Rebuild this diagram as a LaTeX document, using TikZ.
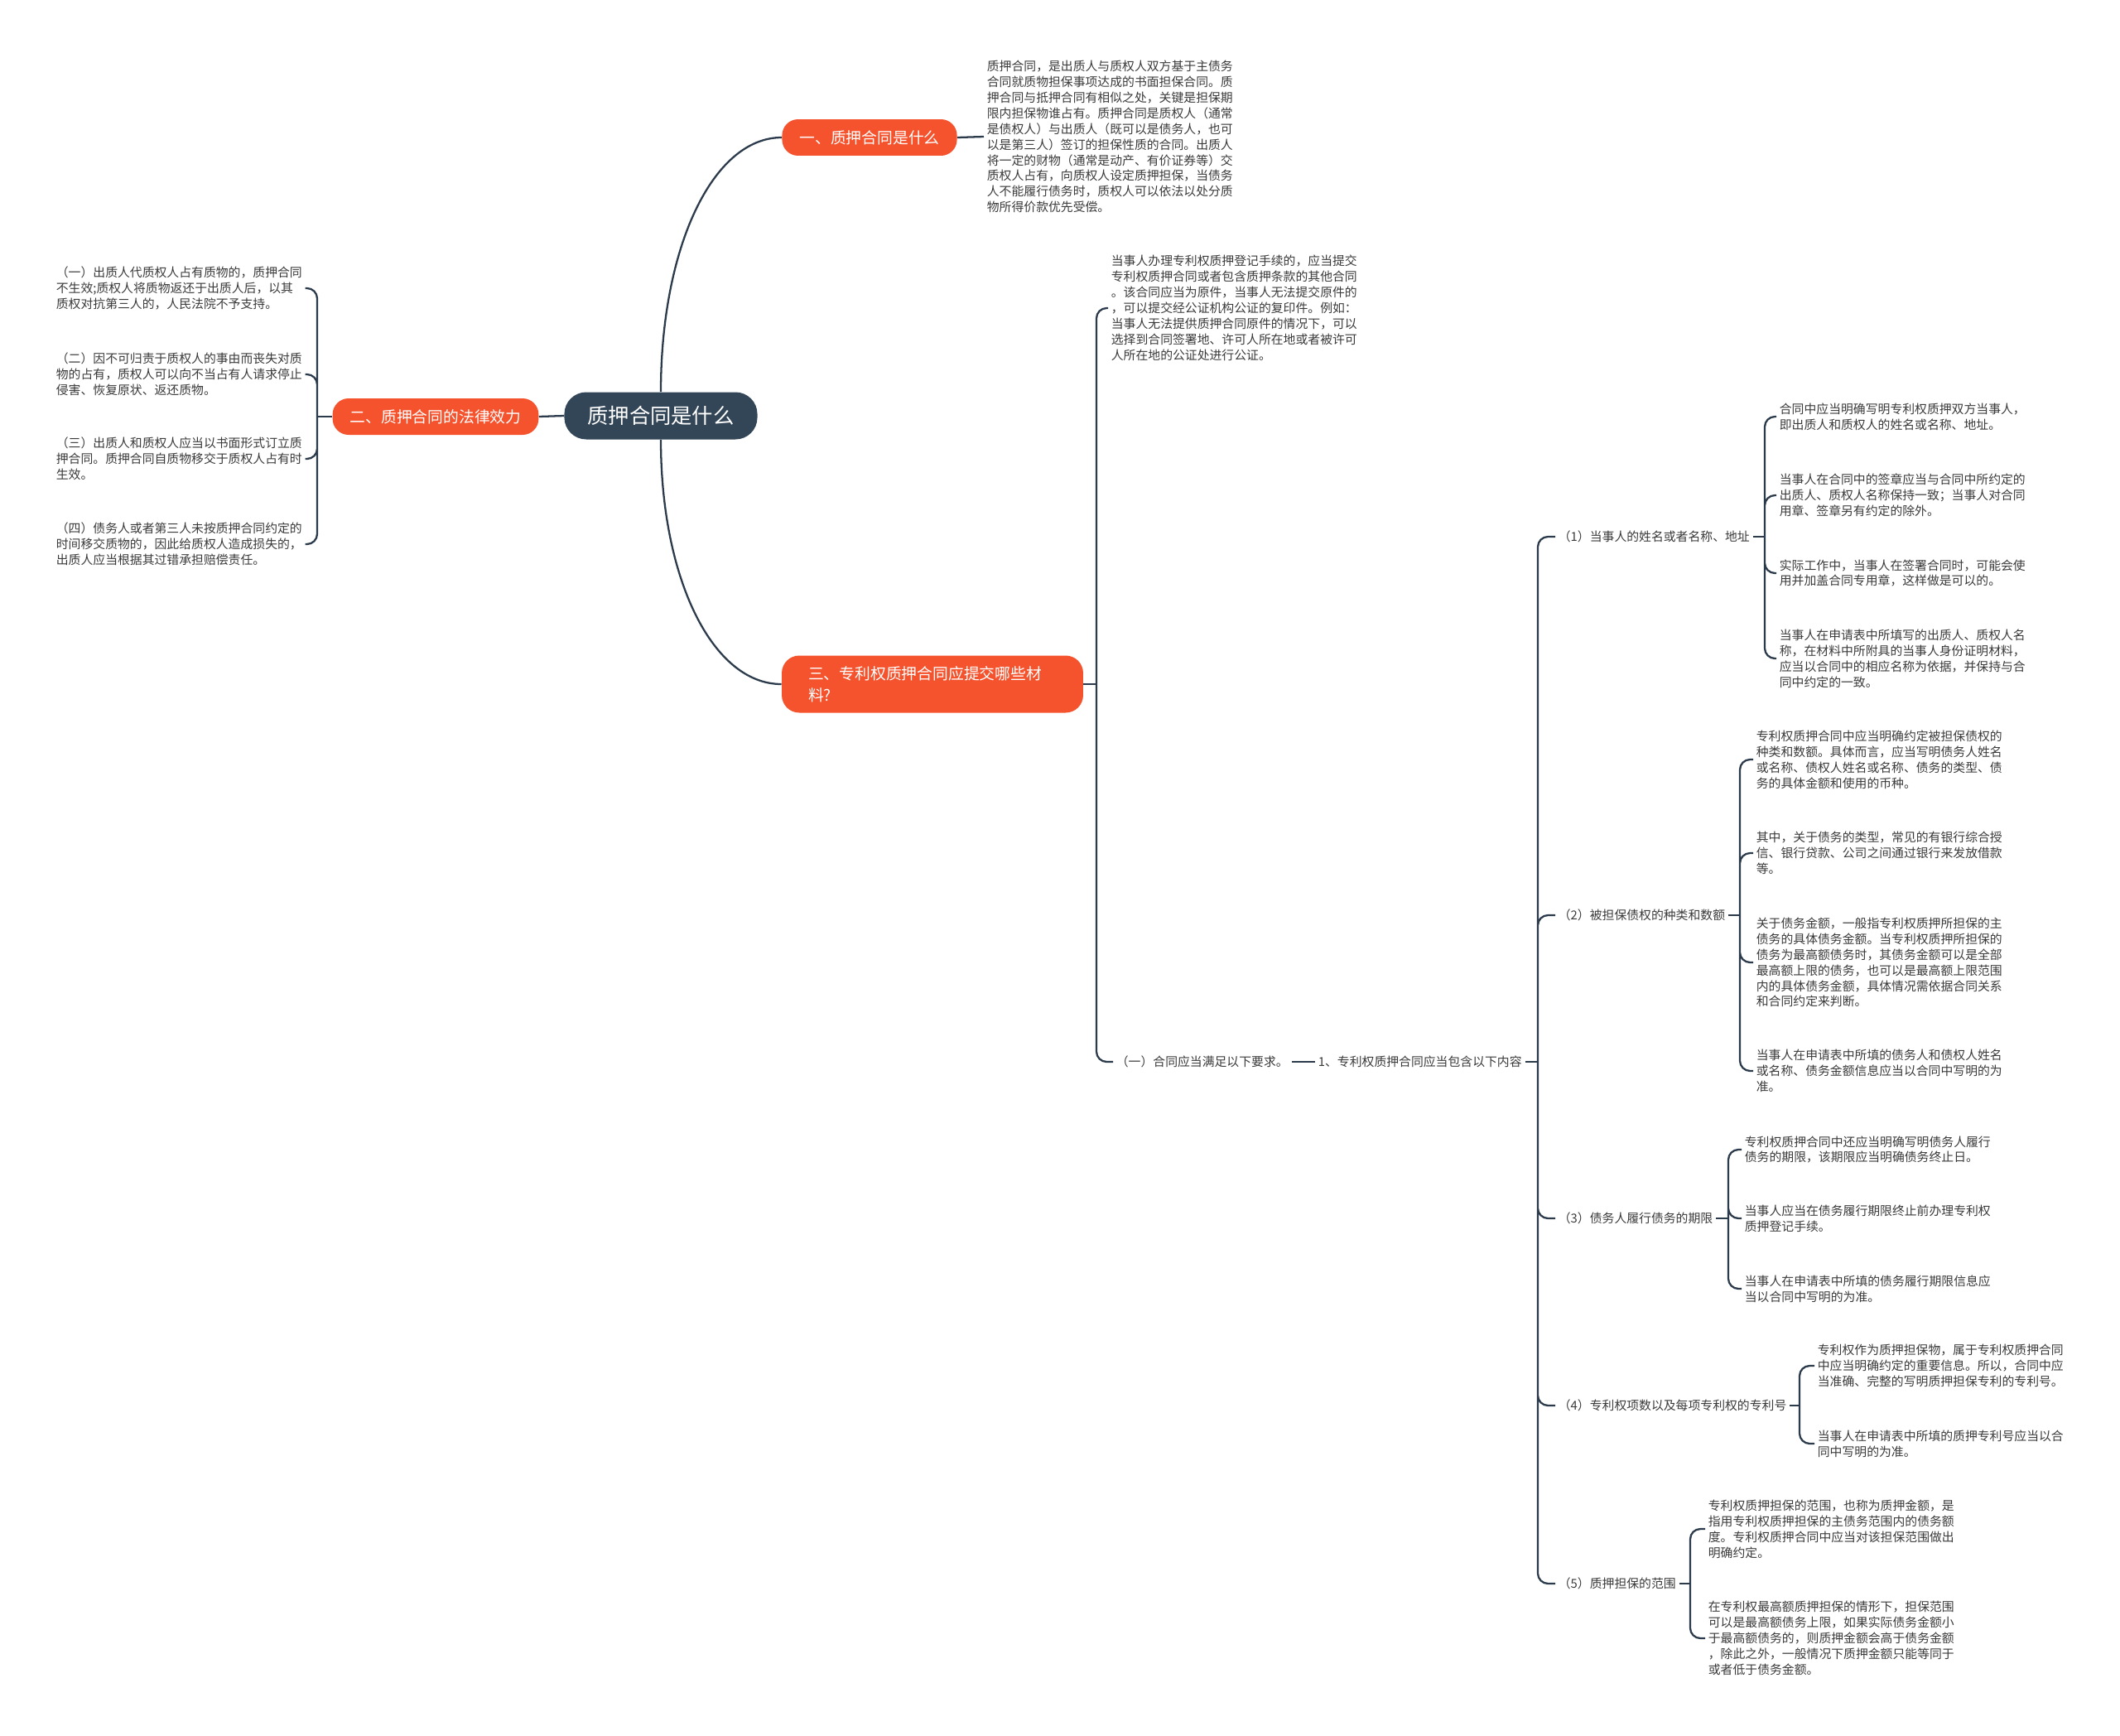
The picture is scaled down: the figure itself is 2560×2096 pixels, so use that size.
\documentclass[tikz,border=0pt]{standalone}
\usepackage{fontspec}
\setmainfont{Noto Sans CJK SC}
\usetikzlibrary{positioning}

\definecolor{topicred}{HTML}{F5532D}
\definecolor{rootblue}{HTML}{334658}
\definecolor{linedark}{HTML}{2C3B4B}
\definecolor{notegray}{HTML}{3A3A3A}

\begin{document}
\begin{tikzpicture}[
  x=0.02cm, y=-0.02cm,
  root/.style={fill=rootblue, text=white, rounded corners=15pt, font=\fontsize{14.4}{17}\selectfont, inner xsep=0.56cm, minimum height=1.14cm},
  topic/.style={fill=topicred, text=white, rounded corners=11pt, font=\fontsize{10.7}{14.8}\selectfont, inner xsep=0.42cm, minimum height=0.88cm},
  bigtopic/.style={topic, rounded corners=12pt, text width=6cm, align=left, inner xsep=0.64cm, minimum height=1.38cm},
  note/.style={anchor=west, align=left, inner sep=2pt, text=notegray, font=\fontsize{8.45}{10.77}\selectfont},
  link/.style={draw=linedark, line width=1.3pt},
  tick/.style={link, rounded corners=7pt},
]
\useasboundingbox (0,0) rectangle (2560,2096);

% ---- root and main topics ----
\node[root] (root) at (798,502) {质押合同是什么};
\node[topic] (what) at (1050,166) {一、质押合同是什么};
\node[topic] (law) at (526,503) {二、质押合同的法律效力};
\node[bigtopic] (patent) at (1126,826) {三、专利权质押合同应提交哪些材\\料?};
\draw[link] (root.north) .. controls (798,300) and (860,166) .. (what.west);
\draw[link] (root.south) .. controls (798,698) and (860,826) .. (patent.west);
\draw[link] (root.west) -- (law.east);

% ---- branch one ----
\node[note] (whattxt) at (1188,165) {质押合同，是出质人与质权人双方基于主债务\\合同就质物担保事项达成的书面担保合同。质\\押合同与抵押合同有相似之处，关键是担保期\\限内担保物谁占有。质押合同是质权人（通常\\是债权人）与出质人（既可以是债务人，也可\\以是第三人）签订的担保性质的合同。出质人\\将一定的财物（通常是动产、有价证券等）交\\质权人占有，向质权人设定质押担保，当债务\\人不能履行债务时，质权人可以依法以处分质\\物所得价款优先受偿。};
\draw[link] (what.east) -- (whattxt.west);

% ---- branch two (left side) ----
\node[note] (law1) at (64,348) {（一）出质人代质权人占有质物的，质押合同\\不生效;质权人将质物返还于出质人后，以其\\质权对抗第三人的，人民法院不予支持。};
\node[note] (law2) at (64,452) {（二）因不可归责于质权人的事由而丧失对质\\物的占有，质权人可以向不当占有人请求停止\\侵害、恢复原状、返还质物。};
\node[note] (law3) at (64,554) {（三）出质人和质权人应当以书面形式订立质\\押合同。质押合同自质物移交于质权人占有时\\生效。};
\node[note] (law4) at (64,657) {（四）债务人或者第三人未按质押合同约定的\\时间移交质物的，因此给质权人造成损失的，\\出质人应当根据其过错承担赔偿责任。};
\coordinate (jlaw) at (383,503);
\draw[link] (law.west) -- (jlaw);
\draw[tick] (jlaw) |- (law1.east) (jlaw) |- (law2.east) (jlaw) |- (law3.east) (jlaw) |- (law4.east);

% ---- branch three ----
\node[note] (pattxt) at (1338,372) {当事人办理专利权质押登记手续的，应当提交\\专利权质押合同或者包含质押条款的其他合同\\。该合同应当为原件，当事人无法提交原件的\\，可以提交经公证机构公证的复印件。例如：\\当事人无法提供质押合同原件的情况下，可以\\选择到合同签署地、许可人所在地或者被许可\\人所在地的公证处进行公证。};
\node[note] (req) at (1344,1282) {（一）合同应当满足以下要求。};
\node[note] (content) at (1588,1282) {1、专利权质押合同应当包含以下内容};
\coordinate (jpat) at (1324,826);
\draw[link] (patent.east) -- (jpat);
\draw[tick] (jpat) |- (pattxt.west) (jpat) |- (req.west);
\draw[link] (req.east) -- (content.west);

% ---- contract items ----
\node[note] (n1) at (1878,648) {（1）当事人的姓名或者名称、地址};
\node[note] (n2) at (1878,1105) {（2）被担保债权的种类和数额};
\node[note] (n3) at (1878,1471) {（3）债务人履行债务的期限};
\node[note] (n4) at (1878,1697) {（4）专利权项数以及每项专利权的专利号};
\node[note] (n5) at (1878,1912) {（5）质押担保的范围};
\coordinate (jcon) at (1857,1282);
\draw[link] (content.east) -- (jcon);
\draw[tick] (jcon) |- (n1.west) (jcon) |- (n2.west) (jcon) |- (n3.west) (jcon) |- (n4.west) (jcon) |- (n5.west);

% (1) names and addresses
\node[note] (n1a) at (2145,503) {合同中应当明确写明专利权质押双方当事人，\\即出质人和质权人的姓名或名称、地址。};
\node[note] (n1b) at (2145,598) {当事人在合同中的签章应当与合同中所约定的\\出质人、质权人名称保持一致；当事人对合同\\用章、签章另有约定的除外。};
\node[note] (n1c) at (2145,692) {实际工作中，当事人在签署合同时，可能会使\\用并加盖合同专用章，这样做是可以的。};
\node[note] (n1d) at (2145,795) {当事人在申请表中所填写的出质人、质权人名\\称，在材料中所附具的当事人身份证明材料，\\应当以合同中的相应名称为依据，并保持与合\\同中约定的一致。};
\coordinate (j1) at (2131,648);
\draw[link] (n1.east) -- (j1);
\draw[tick] (j1) |- (n1a.west) (j1) |- (n1b.west) (j1) |- (n1c.west) (j1) |- (n1d.west);

% (2) secured claim
\node[note] (n2a) at (2117,917) {专利权质押合同中应当明确约定被担保债权的\\种类和数额。具体而言，应当写明债务人姓名\\或名称、债权人姓名或名称、债务的类型、债\\务的具体金额和使用的币种。};
\node[note] (n2b) at (2117,1030) {其中，关于债务的类型，常见的有银行综合授\\信、银行贷款、公司之间通过银行来发放借款\\等。};
\node[note] (n2c) at (2117,1162) {关于债务金额，一般指专利权质押所担保的主\\债务的具体债务金额。当专利权质押所担保的\\债务为最高额债务时，其债务金额可以是全部\\最高额上限的债务，也可以是最高额上限范围\\内的具体债务金额，具体情况需依据合同关系\\和合同约定来判断。};
\node[note] (n2d) at (2117,1293) {当事人在申请表中所填的债务人和债权人姓名\\或名称、债务金额信息应当以合同中写明的为\\准。};
\coordinate (j2) at (2101,1105);
\draw[link] (n2.east) -- (j2);
\draw[tick] (j2) |- (n2a.west) (j2) |- (n2b.west) (j2) |- (n2c.west) (j2) |- (n2d.west);

% (3) term of the debt
\node[note] (n3a) at (2103,1388) {专利权质押合同中还应当明确写明债务人履行\\债务的期限，该期限应当明确债务终止日。};
\node[note] (n3b) at (2103,1471) {当事人应当在债务履行期限终止前办理专利权\\质押登记手续。};
\node[note] (n3c) at (2103,1556) {当事人在申请表中所填的债务履行期限信息应\\当以合同中写明的为准。};
\coordinate (j3) at (2087,1471);
\draw[link] (n3.east) -- (j3);
\draw[tick] (j3) |- (n3a.west) (j3) |- (n3b.west) (j3) |- (n3c.west);

% (4) patent numbers
\node[note] (n4a) at (2191,1649) {专利权作为质押担保物，属于专利权质押合同\\中应当明确约定的重要信息。所以，合同中应\\当准确、完整的写明质押担保专利的专利号。};
\node[note] (n4b) at (2191,1743) {当事人在申请表中所填的质押专利号应当以合\\同中写明的为准。};
\coordinate (j4) at (2173,1697);
\draw[link] (n4.east) -- (j4);
\draw[tick] (j4) |- (n4a.west) (j4) |- (n4b.west);

% (5) scope of the pledge
\node[note] (n5a) at (2059,1846) {专利权质押担保的范围，也称为质押金额，是\\指用专利权质押担保的主债务范围内的债务额\\度。专利权质押合同中应当对该担保范围做出\\明确约定。};
\node[note] (n5b) at (2059,1978) {在专利权最高额质押担保的情形下，担保范围\\可以是最高额债务上限，如果实际债务金额小\\于最高额债务的，则质押金额会高于债务金额\\，除此之外，一般情况下质押金额只能等同于\\或者低于债务金额。};
\coordinate (j5) at (2041,1912);
\draw[link] (n5.east) -- (j5);
\draw[tick] (j5) |- (n5a.west) (j5) |- (n5b.west);

\end{tikzpicture}
\end{document}
